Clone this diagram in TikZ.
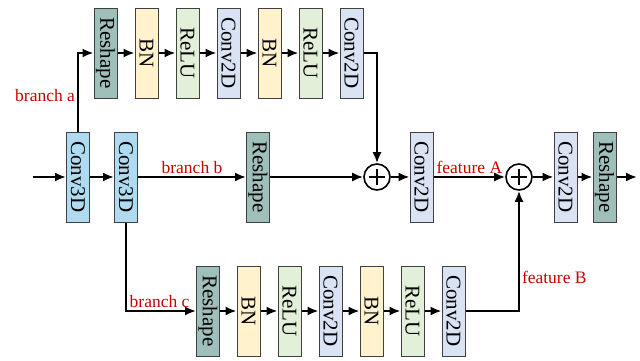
\documentclass[tikz,border=0pt]{standalone}
\usepackage{fontspec}
\setmainfont{Liberation Serif}
\usepackage{xcolor}
\usepackage{tikz}
\usetikzlibrary{arrows.meta, positioning}

\definecolor{reshapecol}{RGB}{159,191,186}
\definecolor{bncol}{RGB}{255,242,204}
\definecolor{relucol}{RGB}{226,240,217}
\definecolor{convcol}{RGB}{218,227,243}
\definecolor{convthreecol}{RGB}{176,218,240}
\definecolor{labelred}{RGB}{204,0,0}

\tikzset{
  layer/.style={draw=black!75, line width=1pt, rotate=-90, minimum width=90pt,
    minimum height=23pt, inner sep=0pt, font=\fontsize{21}{24}\selectfont},
  reshape/.style={layer, fill=reshapecol},
  bn/.style={layer, fill=bncol},
  relu/.style={layer, fill=relucol},
  convtwo/.style={layer, fill=convcol},
  convthree/.style={layer, fill=convthreecol},
  addnode/.style={circle, draw, line width=1.6pt, minimum size=26pt, inner sep=0pt,
    path picture={\draw[line width=1.3pt]
      ([xshift=-8pt]path picture bounding box.center) -- ([xshift=8pt]path picture bounding box.center)
      ([yshift=-8pt]path picture bounding box.center) -- ([yshift=8pt]path picture bounding box.center);}},
  flow/.style={-{Latex[length=11pt, width=9pt]}, line width=2pt},
  lbl/.style={text=labelred, font=\fontsize{17.5}{20}\selectfont, inner sep=2pt}
}

\begin{document}
\begin{tikzpicture}[x=10pt, y=10pt]
    \useasboundingbox (0,0) rectangle (64,36);
    % main row
    \coordinate (in) at (3.3, 18.3);
    \node[convthree] (cthreeA) at (7.8, 18.3) {Conv3D};
    \node[convthree] (cthreeB) at (12.6, 18.3) {Conv3D};
    \node[reshape] (rsB) at (25.8, 18.3) {Reshape};
    \node[addnode] (addA) at (37.7, 18.3) {};
    \node[convtwo] (cfeatA) at (42.15, 18.3) {Conv2D};
    \node[addnode] (addB) at (51.9, 18.3) {};
    \node[convtwo] (cout) at (56.55, 18.3) {Conv2D};
    \node[reshape] (rsout) at (60.45, 18.3) {Reshape};
    \coordinate (out) at (63.7, 18.3);
    % branch a
    \node[reshape] (rsA) at (10.55, 30.7) {Reshape};
    \node[bn] (bnA1) at (14.65, 30.7) {BN};
    \node[relu] (reluA1) at (18.75, 30.7) {ReLU};
    \node[convtwo] (cA1) at (22.85, 30.7) {Conv2D};
    \node[bn] (bnA2) at (26.95, 30.7) {BN};
    \node[relu] (reluA2) at (31.05, 30.7) {ReLU};
    \node[convtwo] (cA2) at (35.15, 30.7) {Conv2D};
    % branch c
    \node[reshape] (rsC) at (20.8, 4.9) {Reshape};
    \node[bn] (bnC1) at (24.85, 4.9) {BN};
    \node[relu] (reluC1) at (28.95, 4.9) {ReLU};
    \node[convtwo] (cC1) at (33.05, 4.9) {Conv2D};
    \node[bn] (bnC2) at (37.15, 4.9) {BN};
    \node[relu] (reluC2) at (41.25, 4.9) {ReLU};
    \node[convtwo] (cC2) at (45.35, 4.9) {Conv2D};

    \draw[flow] (in) -- (cthreeA);
    \draw[flow] (cthreeA) -- (cthreeB);
    \draw[flow] (cthreeB) -- node[lbl, above] {branch b} (rsB);
    \draw[flow] (rsB) -- (addA);
    \draw[flow] (addA) -- (cfeatA);
    \draw[flow] (cfeatA) -- node[lbl, above] {feature A} (addB);
    \draw[flow] (addB) -- (cout);
    \draw[flow] (cout) -- (rsout);
    \draw[flow] (rsout) -- (out);

    \draw[flow] (cthreeA) |- node[lbl, left, pos=0.23] {branch a} (rsA);
    \draw[flow] (rsA) -- (bnA1);
    \draw[flow] (bnA1) -- (reluA1);
    \draw[flow] (reluA1) -- (cA1);
    \draw[flow] (cA1) -- (bnA2);
    \draw[flow] (bnA2) -- (reluA2);
    \draw[flow] (reluA2) -- (cA2);
    \draw[flow] (cA2) -| (addA);

    \draw[flow] (cthreeB) |- node[lbl, above, pos=0.74] {branch c} (rsC);
    \draw[flow] (rsC) -- (bnC1);
    \draw[flow] (bnC1) -- (reluC1);
    \draw[flow] (reluC1) -- (cC1);
    \draw[flow] (cC1) -- (bnC2);
    \draw[flow] (bnC2) -- (reluC2);
    \draw[flow] (reluC2) -- (cC2);
    \draw[flow] (cC2) -| node[lbl, right, pos=0.64] {feature B} (addB);
\end{tikzpicture}
\end{document}
